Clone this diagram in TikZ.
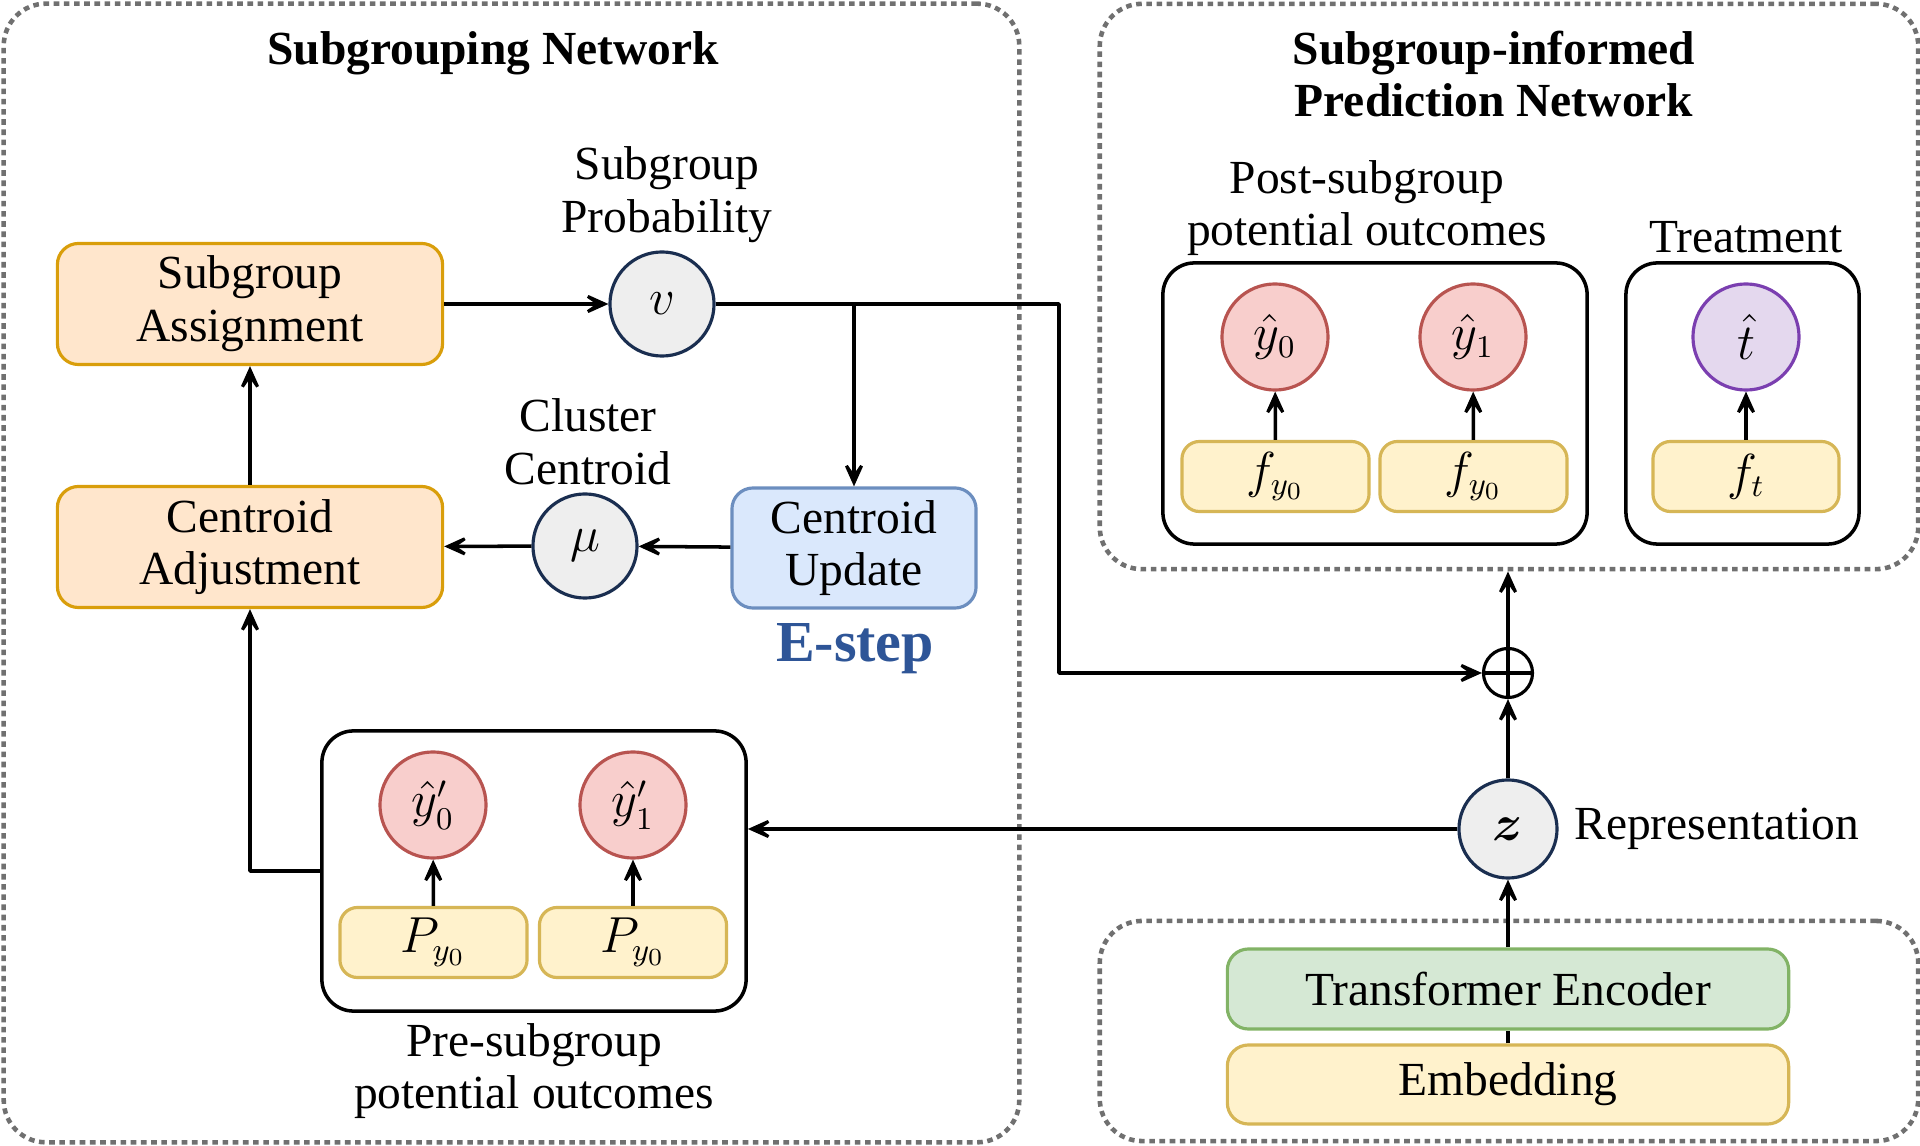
\documentclass[tikz,border=0pt]{standalone}
\usepackage{amsmath}
\usepackage{fontspec}
\setmainfont{Liberation Serif}
\usetikzlibrary{arrows.meta}
\definecolor{orangefill}{HTML}{FFE6CC}
\definecolor{orangeline}{HTML}{D99E0B}
\definecolor{bluefill}{HTML}{DAE8FC}
\definecolor{blueline}{HTML}{6C8EBF}
\definecolor{greenfill}{HTML}{D5E8D4}
\definecolor{greenline}{HTML}{82B366}
\definecolor{yfill}{HTML}{FFF2CC}
\definecolor{yline}{HTML}{D6B656}
\definecolor{redfill}{HTML}{F8CECC}
\definecolor{redline}{HTML}{B85450}
\definecolor{purplefill}{HTML}{E4D8EE}
\definecolor{purpleline}{HTML}{7B3FB0}
\definecolor{navy}{HTML}{1A2E50}
\definecolor{circfill}{HTML}{EEEEEE}
\definecolor{esteptext}{HTML}{2E5597}
\definecolor{framegray}{HTML}{707070}
\newcommand\nodesize{\fontsize{13.5}{15}\selectfont}
\begin{document}
\begin{tikzpicture}[x=0.01cm, y=-0.01cm, line join=round, font=\nodesize,
  frame/.style={draw=framegray, dash pattern=on 1.6pt off 1.3pt, line width=1.3pt, rounded corners=12pt, inner sep=0pt},
  group/.style={draw=black, fill=white, rounded corners=9pt, line width=1pt, inner sep=0pt},
  orangebox/.style={draw=orangeline, fill=orangefill, rounded corners=6pt, line width=0.9pt, minimum width=3.85cm, minimum height=1.21cm, inner sep=0pt, align=center},
  ybox/.style={draw=yline, fill=yfill, rounded corners=5pt, line width=0.9pt, minimum width=1.87cm, minimum height=0.7cm, inner sep=0pt},
  gcirc/.style={circle, draw=navy, fill=circfill, line width=0.9pt, minimum size=1.04cm, inner sep=0pt},
  rcirc/.style={circle, draw=redline, fill=redfill, line width=0.9pt, minimum size=1.06cm, inner sep=0pt},
  label2/.style={align=center},
  title/.style={font=\nodesize\bfseries, align=center},
  link/.style={-{Stealth[length=10pt,width=9pt,inset=6.5pt]}, line width=1pt}]
\useasboundingbox (0,0) rectangle (1920,1146);
% frames
\node[frame, minimum width=10.15cm, minimum height=11.38cm] (sgnet) at (511.5,573) {};
\node[frame, minimum width=8.18cm, minimum height=5.65cm] (pred) at (1509,286.5) {};
\node[frame, minimum width=8.18cm, minimum height=2.2cm] (enc) at (1509,1031) {};
\node[title] (sgtitle) at (493,53) {Subgrouping Network};
\node[title] (predtitle) at (1494,74) {Subgroup-informed\\Prediction Network};
% subgrouping network
\node[orangebox] (assign) at (250,304) {Subgroup\\Assignment};
\node[orangebox] (adjust) at (250,547) {Centroid\\Adjustment};
\node[gcirc] (v) at (662,304) {$v$};
\node[label2] (vlab) at (667,195) {Subgroup\\Probability};
\node[gcirc] (mu) at (585,546) {$\mu$};
\node[label2] (mulab) at (588,442) {Cluster\\Centroid};
\node[orangebox, draw=blueline, fill=bluefill, minimum width=2.44cm, minimum height=1.2cm] (update) at (854,548) {Centroid\\Update};
\node[font=\fontsize{16.5}{19}\selectfont\bfseries, text=esteptext] (estep) at (855,649) {E-step};
\node[group, minimum width=4.24cm, minimum height=2.8cm] (pre) at (534,871) {};
\node[rcirc] (yp0) at (433,805) {$\hat{y}'_0$};
\node[rcirc] (yp1) at (633,805) {$\hat{y}'_1$};
\node[ybox] (p0) at (433.5,942.5) {$P_{y_0}$};
\node[ybox] (p1) at (633,942.5) {$P_{y_0}$};
\node[label2] (prelab) at (534,1071) {Pre-subgroup\\potential outcomes};
% prediction network
\node[group, minimum width=4.24cm, minimum height=2.81cm] (post) at (1375,403.5) {};
\node[rcirc] (y0) at (1275,337) {$\hat{y}_0$};
\node[rcirc] (y1) at (1473,337) {$\hat{y}_1$};
\node[ybox] (f0) at (1275.5,476.5) {$f_{y_0}$};
\node[ybox] (f1) at (1473.5,476.5) {$f_{y_0}$};
\node[label2] (postlab) at (1367,208) {Post-subgroup\\potential outcomes};
\node[group, minimum width=2.33cm, minimum height=2.81cm] (treat) at (1742.5,403.5) {};
\node[rcirc, draw=purpleline, fill=purplefill] (t) at (1746,337) {$\hat{t}$};
\node[ybox, minimum width=1.86cm] (ft) at (1746,476.5) {$f_t$};
\node (treatlab) at (1746,237) {Treatment};
% encoder
\node[orangebox, draw=greenline, fill=greenfill, minimum width=5.61cm, minimum height=0.8cm] (trans) at (1508,989) {Transformer Encoder};
\node[orangebox, draw=yline, fill=yfill, minimum width=5.61cm, minimum height=0.79cm] (embed) at (1508,1084.5) {Embedding};
\node[gcirc, minimum size=0.98cm] (z) at (1508,829) {$\boldsymbol{z}$};
\node[anchor=west] (zlab) at (1562,829) {Representation};
\node[circle, draw, line width=0.9pt, minimum size=0.49cm, inner sep=0pt] (op) at (1508,673) {};
\draw[line width=0.9pt] (op.north) -- (op.south) (op.west) -- (op.east);
% connectors
\coordinate (bend) at (1059,304);
\draw[link] (assign) -- (v);
\draw[link] (v.east) -- (bend) |- (op.west);
\draw[link] (v.east -| update.north) -- (update.north);
\draw[link] (update) -- (mu);
\draw[link] (mu) -- (adjust);
\draw[link] (adjust) -- (assign);
\draw[link] (pre.west) -| (adjust.south);
\draw[link] (z.west) -- (z.west -| pre.east);
\draw[link] (z) -- (op);
\draw[link] (op.north) -- (op.north |- pred.south);
\draw[link] (trans) -- (z);
\draw[line width=0.9pt] (embed) -- (trans);
\foreach \a/\b in {p0/yp0, p1/yp1, f0/y0, f1/y1, ft/t}
  \draw[link] (\a) -- (\b);
\end{tikzpicture}
\end{document}
